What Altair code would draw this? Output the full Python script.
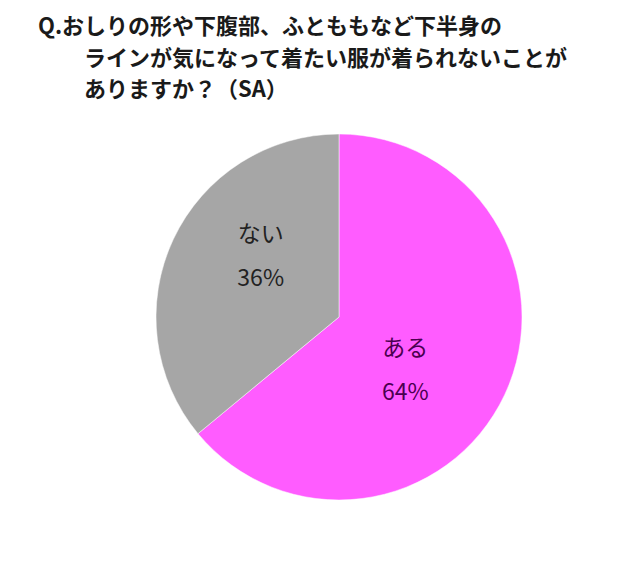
import altair as alt
import pandas as pd

categories = ["ある", "ない"]
values = [64, 36]
percent_labels = ["64%", "36%"]
title_lines = [
    "Q.おしりの形や下腹部、ふとももなど下半身の",
    "ラインが気になって着たい服が着られないことが",
    "ありますか？（SA）",
]

df = pd.DataFrame({
    "cat": categories,
    "value": values,
    "idx": list(range(len(categories))),
    "label": [f"{c}\n{p}" for c, p in zip(categories, percent_labels)],
})

cx, cy, r = 331, 309, 183
FONT = "Noto Sans CJK JP"

base = alt.Chart(df).encode(
    theta=alt.Theta("value:Q", stack=True),
    order=alt.Order("idx:Q"),
)

pie = base.mark_arc(stroke="#ffffff", strokeWidth=0.5).encode(
    color=alt.Color("cat:N", scale=alt.Scale(domain=categories, range=["#FF5CFF", "#A6A6A6"]), legend=None),
    x=alt.value(cx),
    y=alt.value(cy),
    radius=alt.value(r),
)

labels = base.mark_text(
    font=FONT, fontSize=23, lineBreak="\n", lineHeight=44, thetaOffset=0.227,
    align="center", baseline="middle", dy=-25, dx=-6,
).encode(
    text="label:N",
    color=alt.Color("cat:N", scale=alt.Scale(domain=categories, range=["#4B0050", "#222222"]), legend=None),
    x=alt.value(cx),
    y=alt.value(cy),
    radius=alt.value(92),
)

title_pos = [(30, 19), (76, 51), (76, 82)]
title_layers = []
for (tx, ty), line in zip(title_pos, title_lines):
    title_layers.append(
        alt.Chart(pd.DataFrame({"t": [line]})).mark_text(
            font=FONT, fontSize=22, fontWeight="bold", align="left", baseline="middle", color="#1a1a1a"
        ).encode(text="t:N", x=alt.value(tx), y=alt.value(ty))
    )

chart = alt.layer(pie, labels, *title_layers).resolve_scale(color="independent").properties(
    width=624, height=545, autosize=alt.AutoSizeParams(type="none"), padding=0,
).configure_view(stroke=None)

chart.save("out.html", embed_options={"renderer": "svg", "actions": False})
